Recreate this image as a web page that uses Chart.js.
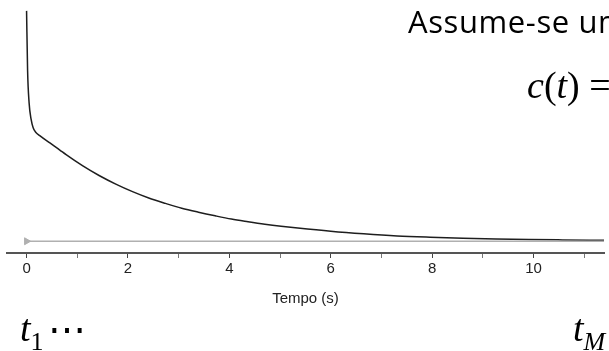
<!DOCTYPE html>
<html>
<head>
<meta charset="utf-8">
<script src="https://cdn.jsdelivr.net/npm/chart.js@4/dist/chart.umd.min.js"></script>
<style>
  html, body { margin: 0; padding: 0; background: #fff; }
  #wrap { position: relative; width: 609px; height: 351px; overflow: hidden; background: #fff; }
  canvas { position: absolute; left: 0; top: 0; }
  .txt { position: absolute; white-space: nowrap; color: #000; }
  #assume { left: 408px; top: 3px; font-family: "Open Sans", "Liberation Sans", sans-serif; font-size: 31px; line-height: 36px; letter-spacing: 0.6px; }
  #ct { left: 527px; top: 62px; font-family: "Liberation Serif", "DejaVu Serif", serif; font-size: 38px; line-height: 46px; }
  #t1 { left: 20px; top: 306px; font-family: "Liberation Serif", "DejaVu Serif", serif; font-size: 38px; line-height: 44px; }
  #tm { left: 573px; top: 306px; font-family: "Liberation Serif", "DejaVu Serif", serif; font-size: 38px; line-height: 44px; }
  i { font-style: italic; }
  sub { font-size: 26px; vertical-align: -9px; line-height: 0; }
  .dots { margin-left: 4px; position: relative; top: 2px; }
</style>
</head>
<body>
<div id="wrap">
  <canvas id="c" width="609" height="351"></canvas>
  <div class="txt" id="assume">Assume-se um</div>
  <div class="txt" id="ct"><i>c</i>(<i>t</i>) =</div>
  <div class="txt" id="t1"><i>t</i><sub>1</sub><span class="dots">&#8943;</span></div>
  <div class="txt" id="tm"><i>t</i><sub><i>M</i></sub></div>
</div>
<script>
// Time (s) of the measured decay curve
const timeS = [0.00, 0.02, 0.05, 0.09, 0.13, 0.18, 0.26, 0.46, 0.65, 0.78, 1.11, 1.43, 1.76, 2.09, 2.41, 2.74, 3.06, 3.39, 3.72, 4.04, 4.37, 4.70, 5.02, 5.35, 6.00, 6.65, 7.31, 7.96, 8.61, 9.26, 9.91, 10.57, 11.39];
// Signal (arbitrary units) of the decay curve
const signal = [23.55, 17.48, 14.15, 12.45, 11.60, 11.15, 10.80, 10.05, 9.35, 8.85, 7.70, 6.72, 5.84, 5.07, 4.42, 3.87, 3.38, 2.97, 2.60, 2.27, 2.00, 1.75, 1.54, 1.35, 1.02, 0.76, 0.55, 0.42, 0.32, 0.24, 0.18, 0.14, 0.10];
// Baseline (gray) trace
const baseT = [0.00, 2.0, 4.0, 6.0, 8.0, 10.0, 11.39];
const baseV = [0, 0, 0, 0, 0, 0, 0];
const xAxisTitle = 'Tempo (s)';

const curve = timeS.map((t, i) => ({ x: t, y: signal[i] }));
const base = baseT.map((t, i) => ({ x: t, y: baseV[i] }));

new Chart(document.getElementById('c'), {
  type: 'line',
  data: {
    datasets: [
      {
        data: base,
        borderColor: '#b0b0b0',
        backgroundColor: '#b0b0b0',
        borderWidth: 1.5,
        pointStyle: 'triangle',
        rotation: 90,
        pointRadius: (ctx) => ctx.dataIndex === 0 ? 4 : 0,
        pointBorderWidth: 1,
        tension: 0
      },
      {
        data: curve,
        borderColor: '#1e1e1e',
        borderWidth: 1.5,
        pointRadius: 0,
        cubicInterpolationMode: 'monotone'
      }
    ]
  },
  options: {
    responsive: false,
    animation: false,
    events: [],
    layout: { padding: { left: 7, right: 0, top: 0, bottom: 43.5 } },
    plugins: { legend: { display: false }, tooltip: { enabled: false } },
    scales: {
      x: {
        type: 'linear',
        min: -0.386,
        max: 11.39,
        border: { display: true, color: '#555', width: 2 },
        grid: {
          drawOnChartArea: false,
          drawTicks: true,
          tickLength: 5,
          tickColor: (ctx) => (ctx.tick && Math.round(ctx.tick.value) % 2 === 0) ? '#444' : '#777',
          tickWidth: 1
        },
        ticks: {
          stepSize: 1,
          includeBounds: false,
          autoSkip: false,
          maxRotation: 0,
          padding: 2,
          color: '#222',
          font: { family: 'Liberation Sans, Arial, sans-serif', size: 15 },
          callback: (v) => (Math.round(v) % 2 === 0) ? String(v) : ''
        },
        title: {
          display: true,
          text: xAxisTitle,
          color: '#222',
          font: { family: 'Liberation Sans, Arial, sans-serif', size: 15 },
          padding: { top: 9.5, bottom: 0 }
        }
      },
      y: {
        type: 'linear',
        display: false,
        min: -1.2,
        max: 24.15
      }
    }
  }
});
</script>
</body>
</html>
